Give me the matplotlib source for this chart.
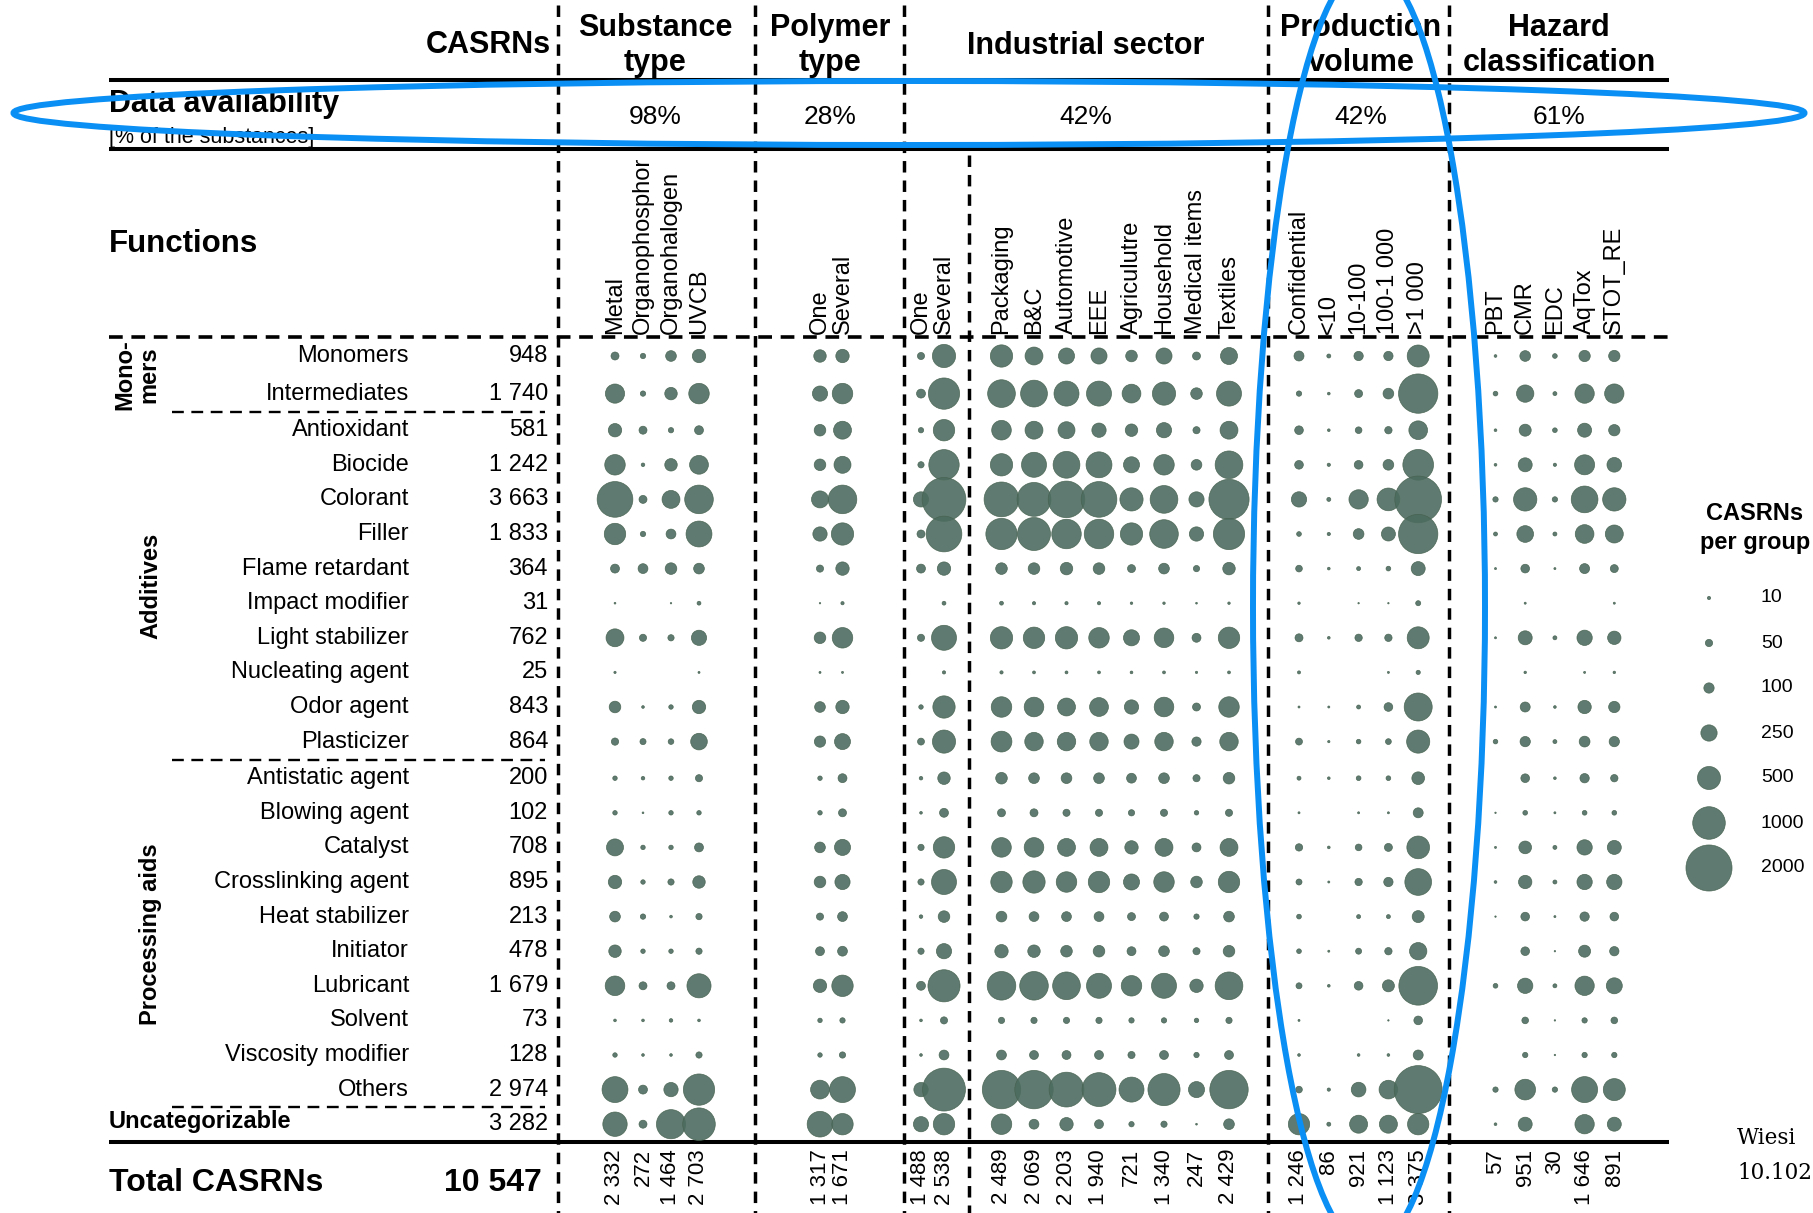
import numpy as np
import matplotlib
matplotlib.use('Agg')
import matplotlib.pyplot as plt
from matplotlib.patches import Ellipse

plt.rcParams['font.family'] = ['Liberation Sans', 'DejaVu Sans']

# ---------------- data ----------------
functions = ['Monomers', 'Intermediates', 'Antioxidant', 'Biocide', 'Colorant', 'Filler',
             'Flame retardant', 'Impact modifier', 'Light stabilizer', 'Nucleating agent',
             'Odor agent', 'Plasticizer', 'Antistatic agent', 'Blowing agent', 'Catalyst',
             'Crosslinking agent', 'Heat stabilizer', 'Initiator', 'Lubricant', 'Solvent',
             'Viscosity modifier', 'Others', 'Uncategorizable']
function_counts = [948, 1740, 581, 1242, 3663, 1833, 364, 31, 762, 25, 843, 864, 200, 102,
                   708, 895, 213, 478, 1679, 73, 128, 2974, 3282]
total_casrns = 10547

group_headers = [['Substance', 'type'], ['Polymer', 'type'], ['Industrial sector'],
                 ['Production', 'volume'], ['Hazard', 'classification']]
data_availability = [98, 28, 42, 42, 61]

substance_labels = ['Metal', 'Organophosphor', 'Organohalogen', 'UVCB']
polymer_labels = ['One', 'Several']
industry_n_labels = ['One', 'Several']
sector_labels = ['Packaging', 'B&C', 'Automotive', 'EEE', 'Agriculutre', 'Household',
                 'Medical items', 'Textiles']
volume_labels = ['Confidential', '<10', '10-100', '100-1 000', '>1 000']
hazard_labels = ['PBT', 'CMR', 'EDC', 'AqTox', 'STOT_RE']

substance_totals = [2332, 272, 1464, 2703]
polymer_totals = [1317, 1671]
industry_n_totals = [1488, 2538]
sector_totals = [2489, 2069, 2203, 1940, 721, 1340, 247, 2429]
volume_totals = [1246, 86, 921, 1123, 3375]
hazard_totals = [57, 951, 30, 1646, 891]

substance_values = [
    [60, 27, 108, 169], [347, 27, 147, 396], [169, 60, 27, 75], [396, 12, 147, 333],
    [1201, 60, 302, 771], [432, 27, 91, 632], [75, 91, 127, 108], [3, 0, 2, 14],
    [302, 48, 37, 218], [5, 0, 0, 4], [127, 7, 19, 169], [50, 35, 30, 260],
    [19, 12, 19, 48], [19, 3, 19, 19], [272, 19, 19, 75], [169, 19, 37, 147],
    [108, 27, 7, 37], [147, 19, 19, 37], [362, 60, 60, 548], [7, 7, 12, 7],
    [19, 7, 7, 37], [632, 75, 193, 923], [560, 60, 800, 1000]]
polymer_values = [
    [147, 169], [218, 396], [127, 302], [127, 272], [272, 771], [193, 469], [48, 169],
    [2, 10], [127, 396], [4, 4], [108, 169], [120, 240], [19, 75], [19, 60], [108, 244],
    [127, 218], [48, 91], [75, 91], [169, 432], [19, 27], [19, 37], [333, 632], [620, 430]]
industry_n_values = [
    [48, 507], [75, 923], [27, 432], [37, 871], [218, 1804], [60, 1201], [75, 169],
    [0, 14], [48, 589], [0, 10], [19, 469], [45, 504], [12, 147], [7, 75], [37, 432],
    [37, 589], [12, 127], [37, 218], [75, 973], [7, 48], [7, 91], [193, 1734], [218, 432]]
sector_values = [
    [469, 302, 244, 244, 127, 244, 60, 272],
    [723, 677, 589, 589, 333, 507, 127, 589],
    [362, 302, 272, 193, 147, 218, 48, 302],
    [469, 589, 677, 632, 244, 396, 108, 723],
    [1142, 1083, 1263, 1201, 507, 723, 218, 1523],
    [923, 1027, 820, 820, 469, 771, 193, 923],
    [127, 127, 147, 127, 60, 108, 37, 147],
    [14, 10, 10, 10, 6, 6, 3, 6],
    [469, 432, 469, 396, 244, 362, 75, 432],
    [10, 8, 8, 8, 7, 8, 5, 8],
    [396, 362, 302, 333, 193, 362, 60, 396],
    [408, 322, 322, 322, 213, 322, 81, 322],
    [127, 108, 108, 108, 91, 108, 48, 127],
    [60, 60, 48, 48, 37, 48, 19, 48],
    [362, 362, 302, 302, 169, 302, 75, 302],
    [432, 469, 396, 432, 244, 396, 127, 432],
    [108, 91, 91, 91, 60, 75, 27, 108],
    [169, 147, 127, 127, 75, 108, 48, 127],
    [771, 771, 723, 589, 396, 589, 169, 723],
    [37, 37, 37, 37, 27, 27, 19, 37],
    [91, 75, 75, 75, 48, 75, 27, 75],
    [1389, 1389, 1142, 1083, 589, 973, 244, 1389],
    [396, 91, 169, 75, 27, 37, 3, 108]]
volume_values = [
    [94, 15, 82, 82, 456], [27, 7, 60, 108, 1457], [71, 7, 42, 51, 329],
    [71, 10, 71, 108, 888], [221, 15, 352, 486, 2055], [21, 10, 108, 185, 1457],
    [42, 7, 15, 21, 185], [6, 0, 2, 2, 24], [60, 7, 51, 51, 456], [9, 0, 0, 4, 17],
    [4, 4, 15, 71, 739], [45, 5, 20, 32, 504], [15, 7, 21, 21, 152], [4, 0, 4, 4, 94],
    [51, 7, 42, 60, 486], [34, 4, 51, 82, 672], [21, 0, 15, 15, 136], [21, 4, 34, 51, 283],
    [34, 7, 71, 136, 1411], [4, 0, 0, 2, 71], [7, 0, 7, 7, 94], [42, 10, 203, 329, 2172],
    [428, 15, 305, 305, 428]]
hazard_values = [
    [7, 108, 21, 121, 121], [21, 283, 15, 352, 352], [7, 136, 21, 185, 121],
    [7, 185, 10, 377, 203], [27, 512, 27, 672, 512], [15, 263, 15, 329, 305],
    [4, 71, 4, 94, 60], [0, 4, 0, 0, 4], [4, 185, 15, 221, 168], [0, 6, 0, 4, 6],
    [4, 94, 7, 168, 121], [20, 100, 15, 110, 100], [0, 71, 7, 82, 51], [2, 21, 4, 21, 21],
    [4, 152, 15, 221, 185], [7, 168, 15, 221, 221], [2, 71, 4, 82, 71], [0, 71, 2, 136, 82],
    [21, 221, 15, 352, 241], [0, 42, 2, 27, 42], [0, 27, 2, 27, 27], [27, 403, 27, 637, 456],
    [7, 185, 0, 352, 185]]

legend_values = [10, 50, 100, 250, 500, 1000, 2000]

# visible part of the source note at the right edge of the reference
citation_lines = ['Wiesi', '10.102']

# ---------------- layout (pixel space of a 1813x1213 canvas) ----------------
W, H, DPI = 1813, 1213, 100
BUBBLE = '#4d6c60'
BLUE = '#0a8ff5'
SCALE = (1.03 * 72 / DPI) ** 2   # marker area (pt^2) per CASRN


def fmt(n):
    return f'{n:,}'.replace(',', ' ')


fig = plt.figure(figsize=(W / DPI, H / DPI), dpi=DPI)
ax = fig.add_axes([0, 0, 1, 1])
ax.set_xlim(0, W)
ax.set_ylim(H, 0)
ax.axis('off')

idx = np.arange(len(functions))
row_y = 356 + 34.6 * idx + 3 * (idx >= 1) + 2 * (idx >= 2) + 2 * (idx >= 12)

groups = [
    (substance_values, substance_labels, substance_totals, 615, 28.0),
    (polymer_values, polymer_labels, polymer_totals, 820, 22.5),
    (industry_n_values, industry_n_labels, industry_n_totals, 921, 23.0),
    (sector_values, sector_labels, sector_totals, 1001.5, 32.5),
    (volume_values, volume_labels, volume_totals, 1299, 29.8),
    (hazard_values, hazard_labels, hazard_totals, 1495.5, 29.7),
]

for vals, labels, totals, x0, step in groups:
    vals = np.asarray(vals, dtype=float)
    xs = x0 + step * np.arange(vals.shape[1])
    X, Y = np.meshgrid(xs, row_y)
    ax.scatter(X.ravel(), Y.ravel(), s=SCALE * vals.ravel(), color=BUBBLE, alpha=0.9,
               edgecolor='#45614f', linewidth=0.5, zorder=3)
    for x, lab, tot in zip(xs, labels, totals):
        ax.text(x, 334, lab, rotation=90, ha='center', va='bottom', fontsize=17, zorder=4)
        ax.text(x, 1149, fmt(tot), rotation=90, ha='center', va='top', fontsize=16, zorder=4)

# header
header_x = [655, 830, 1086, 1361, 1559]
ax.text(551, 45, 'CASRNs', ha='right', va='center', fontsize=22, weight='bold')
for hx, lines, pct in zip(header_x, group_headers, data_availability):
    if len(lines) == 1:
        ax.text(hx, 46, lines[0], ha='center', va='center', fontsize=22, weight='bold')
    else:
        ax.text(hx, 28, lines[0], ha='center', va='center', fontsize=22, weight='bold')
        ax.text(hx, 63, lines[1], ha='center', va='center', fontsize=22, weight='bold')
    ax.text(hx, 117, f'{pct}%', ha='center', va='center', fontsize=19)

ax.text(109, 104, 'Data availability', ha='left', va='center', fontsize=22, weight='bold')
ax.text(109, 137, '[% of the substances]', ha='left', va='center', fontsize=15.5)
ax.text(109, 244, 'Functions', ha='left', va='center', fontsize=22.5, weight='bold')

# solid rules
for yy in (80, 149, 1142):
    ax.plot([109, 1669], [yy, yy], color='black', lw=2.9, solid_capstyle='butt', zorder=2)

# dashed rules
ax.plot([109, 1669], [337, 337], color='black', lw=2.6, ls=(0, (3.8, 2.4)), zorder=2)
for vx in (558, 755, 904, 1268, 1449):
    ax.plot([vx, vx], [5, H], color='black', lw=2.5, ls=(0, (3.3, 2.3)), zorder=2)
ax.plot([969, 969], [155, H], color='black', lw=2.5, ls=(0, (3.3, 2.3)), zorder=2)
for b in (1, 11, 21):
    yy = (row_y[b] + row_y[b + 1]) / 2
    ax.plot([172, 545], [yy, yy], color='black', lw=1.7, ls=(0, (5, 3.2)), zorder=2)

# row labels
for i, (name, cnt) in enumerate(zip(functions, function_counts)):
    if name == 'Uncategorizable':
        ax.text(109, row_y[i] - 3, name, ha='left', va='center', fontsize=17, weight='bold')
    else:
        ax.text(409, row_y[i], name, ha='right', va='center', fontsize=17)
    ax.text(548, row_y[i], fmt(cnt), ha='right', va='center', fontsize=17)

ax.text(137, (row_y[0] + row_y[1]) / 2, 'Mono-\nmers', rotation=90, ha='center', va='center',
        fontsize=17, weight='bold', multialignment='center', linespacing=1.05)
ax.text(151, (row_y[2] + row_y[11]) / 2, 'Additives', rotation=90, ha='center', va='center',
        fontsize=17, weight='bold')
ax.text(151, (row_y[12] + row_y[21]) / 2, 'Processing aids', rotation=90, ha='center',
        va='center', fontsize=17, weight='bold')

ax.text(109, 1183, 'Total CASRNs', ha='left', va='center', fontsize=23, weight='bold')
ax.text(542, 1183, fmt(total_casrns), ha='right', va='center', fontsize=23, weight='bold')

# size legend
ax.text(1755, 514, 'CASRNs', ha='center', va='center', fontsize=17, weight='bold')
ax.text(1755, 542, 'per group', ha='center', va='center', fontsize=17, weight='bold')
leg_y = 598 + 45 * np.arange(len(legend_values))
ax.scatter(np.full(len(legend_values), 1709), leg_y, s=SCALE * np.array(legend_values),
           color=BUBBLE, alpha=0.9, edgecolor='#45614f', linewidth=0.5, zorder=3)
for yy, v in zip(leg_y, legend_values):
    ax.text(1761, yy, str(v), ha='left', va='center', fontsize=14)

# source note (only its start is visible at the right edge)
for yy, line in zip((1138, 1173), citation_lines):
    ax.text(1737, yy, line, ha='left', va='center', fontsize=15.5, family='DejaVu Serif')

# hand-drawn highlight ellipses
ax.add_patch(Ellipse((909, 113), 1791, 64, fill=False, ec=BLUE, lw=4.3, zorder=10,
                     clip_on=False))
ax.add_patch(Ellipse((1369, 607), 232, 1283, fill=False, ec=BLUE, lw=4.3, zorder=10,
                     clip_on=False))

fig.savefig('out.png', dpi=DPI)
